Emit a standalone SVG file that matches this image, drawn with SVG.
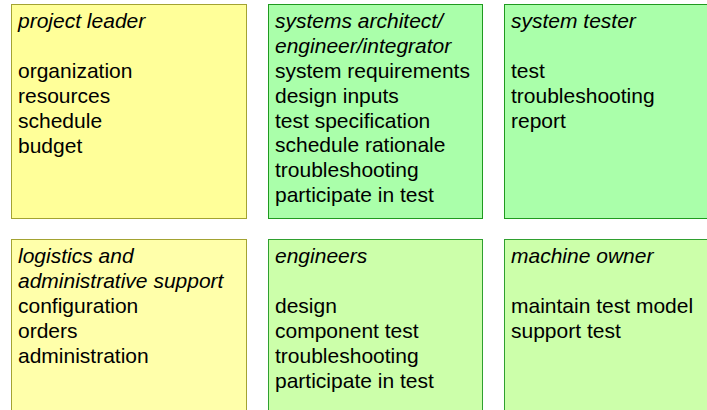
<svg xmlns="http://www.w3.org/2000/svg" width="707" height="410" viewBox="0 0 707 410">
<style>
  .box { stroke-width: 1; }
  .y1 { fill: #ffff99; stroke: #a3a332; }
  .y2 { fill: #ffffaa; stroke: #a3a332; }
  .g1 { fill: #aaffaa; stroke: #1f9a1f; }
  .g2 { fill: #ccffaa; stroke: #2fa02f; }
  text { font-family: "Liberation Sans", Arial, sans-serif; font-size: 21px; fill: #000; }
  .t { font-style: italic; }
</style>
<rect width="707" height="410" fill="#ffffff"/>
<g id="project-leader">
  <rect class="box y1" x="11.5" y="4.5" width="235" height="214"/>
  <text x="18" y="28"><tspan class="t">project leader</tspan><tspan x="18" y="78">organization</tspan><tspan x="18" y="103">resources</tspan><tspan x="18" y="128">schedule</tspan><tspan x="18" y="153">budget</tspan></text>
</g>
<g id="systems-architect">
  <rect class="box g1" x="268.5" y="4.5" width="214" height="214"/>
  <text x="275" y="28"><tspan class="t">systems architect/</tspan><tspan class="t" x="275" y="53">engineer/integrator</tspan><tspan x="275" y="78">system requirements</tspan><tspan x="275" y="103">design inputs</tspan><tspan x="275" y="128">test specification</tspan><tspan x="275" y="152">schedule rationale</tspan><tspan x="275" y="177">troubleshooting</tspan><tspan x="275" y="202">participate in test</tspan></text>
</g>
<g id="system-tester">
  <rect class="box g1" x="504.5" y="4.5" width="220" height="214"/>
  <text x="511" y="28"><tspan class="t">system tester</tspan><tspan x="511" y="78">test</tspan><tspan x="511" y="103">troubleshooting</tspan><tspan x="511" y="128">report</tspan></text>
</g>
<g id="logistics">
  <rect class="box y2" x="11.5" y="239.5" width="235" height="200"/>
  <text x="18" y="263"><tspan class="t">logistics and</tspan><tspan class="t" x="18" y="288">administrative support</tspan><tspan x="18" y="313">configuration</tspan><tspan x="18" y="338">orders</tspan><tspan x="18" y="363">administration</tspan></text>
</g>
<g id="engineers">
  <rect class="box g2" x="268.5" y="239.5" width="214" height="200"/>
  <text x="275" y="263"><tspan class="t">engineers</tspan><tspan x="275" y="313">design</tspan><tspan x="275" y="338">component test</tspan><tspan x="275" y="363">troubleshooting</tspan><tspan x="275" y="388">participate in test</tspan></text>
</g>
<g id="machine-owner">
  <rect class="box g2" x="504.5" y="239.5" width="220" height="200"/>
  <text x="511" y="263"><tspan class="t">machine owner</tspan><tspan x="511" y="313">maintain test model</tspan><tspan x="511" y="338">support test</tspan></text>
</g>
</svg>
